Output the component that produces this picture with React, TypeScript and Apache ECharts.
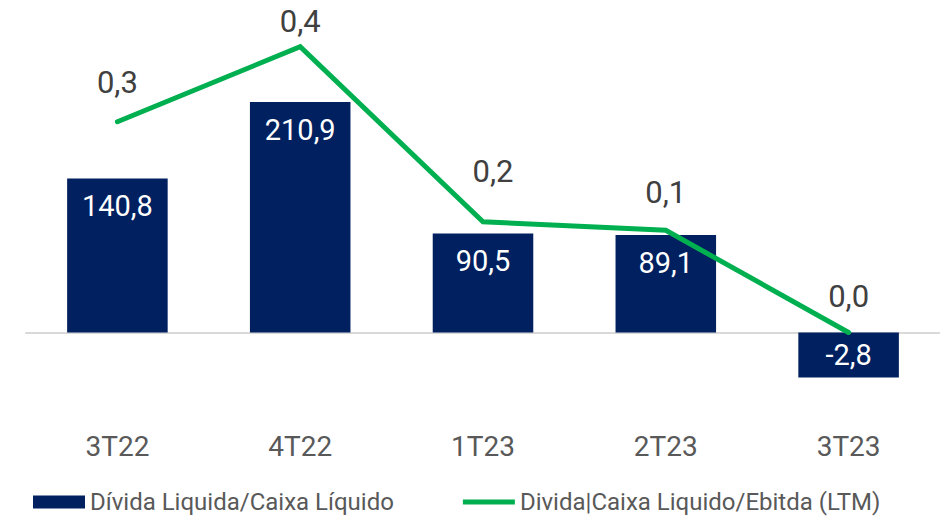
import React, { useEffect, useRef } from "react";
import * as echarts from "echarts";

// ---- data ----
const categories = ["3T22", "4T22", "1T23", "2T23", "3T23"];
const netDebt = [140.8, 210.9, 90.5, 89.1, -2.8];
const netDebtEbitda = [0.295, 0.4, 0.155, 0.143, 0.0];
const seriesNames = ["Dívida Liquida/Caixa Líquido", "Divida|Caixa Liquido/Ebitda (LTM)"];

// ---- layout / style constants ----
const PX_PER_UNIT_BAR = 1.0929;
const PX_PER_UNIT_LINE = 714.5;
const Y_MIN = -90;
const Y_MAX = 300;
const ZERO_Y = 332.5;
const LINE_LABEL_DIST = [22, 8, 33, 20, 19];
const LINE_LABEL_DX = [0, 0, 10, 0, 0];
const FONT = "Roboto, 'Noto Sans', sans-serif";

const fmt = (v: number, d: number) => v.toFixed(d).replace(".", ",");

export default function App() {
  const ref = useRef<HTMLDivElement>(null);
  useEffect(() => {
    if (!ref.current) return;
    const chart = echarts.init(ref.current, undefined, { renderer: "svg" });
    const gridHeight = (Y_MAX - Y_MIN) * PX_PER_UNIT_BAR;
    const gridTop = ZERO_Y - Y_MAX * PX_PER_UNIT_BAR;
    chart.setOption({
      animation: false,
      textStyle: { fontFamily: FONT },
      grid: {
        left: 26,
        right: 0,
        top: gridTop,
        height: gridHeight,
        containLabel: false,
        outerBoundsMode: "none",
      },
      xAxis: [
        {
          type: "category",
          data: categories,
          axisLine: { show: true, onZero: true, lineStyle: { color: "#d9d9d9", width: 2 } },
          axisTick: { show: false },
          axisLabel: { show: false },
        },
        {
          type: "category",
          data: categories,
          position: "bottom",
          axisLine: { show: false, onZero: false },
          axisTick: { show: false },
          axisLabel: { margin: 2, fontSize: 28, color: "#595959", fontFamily: FONT },
        },
      ],
      yAxis: [
        { type: "value", min: Y_MIN, max: Y_MAX, show: false, splitLine: { show: false } },
        {
          type: "value",
          min: (Y_MIN * PX_PER_UNIT_BAR) / PX_PER_UNIT_LINE,
          max: (Y_MAX * PX_PER_UNIT_BAR) / PX_PER_UNIT_LINE,
          show: false,
          splitLine: { show: false },
        },
      ],
      legend: {
        left: 33,
        top: 490,
        padding: 0,
        itemWidth: 52,
        itemHeight: 13,
        itemGap: 69,
        textStyle: { fontSize: 24, color: "#595959", fontFamily: FONT },
        data: [
          { name: seriesNames[0], icon: "rect" },
          { name: seriesNames[1], icon: "path://M0,0 L52,0 L52,5 L0,5 Z" },
        ],
      },
      series: [
        {
          name: seriesNames[0],
          type: "bar",
          xAxisIndex: 0,
          yAxisIndex: 0,
          barWidth: "55%",
          barMinHeight: 45,
          itemStyle: { color: "#002060" },
          data: netDebt.map((v) => ({
            value: v,
            label: { position: v < 0 ? "inside" : "insideTop" },
          })),
          label: {
            show: true,
            distance: 13,
            color: "#ffffff",
            fontSize: 29,
            fontFamily: FONT,
            formatter: (p: any) => fmt(p.value, 1),
          },
          z: 2,
        },
        {
          name: seriesNames[1],
          type: "line",
          xAxisIndex: 0,
          yAxisIndex: 1,
          symbol: "circle",
          symbolSize: 4,
          showSymbol: true,
          lineStyle: { color: "#00B050", width: 5, cap: "round", join: "miter" },
          itemStyle: { color: "#00B050" },
          data: netDebtEbitda.map((v, i) => ({
            value: v,
            label: { distance: LINE_LABEL_DIST[i], offset: [LINE_LABEL_DX[i], 0] },
          })),
          label: {
            show: true,
            position: "top",
            color: "#404040",
            fontSize: 31,
            fontFamily: FONT,
            formatter: (p: any) => fmt(p.value, 1),
          },
          z: 3,
        },
      ],
    });
    return () => chart.dispose();
  }, []);
  return (
    <div
      ref={ref}
      style={{ position: "fixed", left: 0, top: 0, width: 940, height: 516, background: "#ffffff" }}
    />
  );
}
